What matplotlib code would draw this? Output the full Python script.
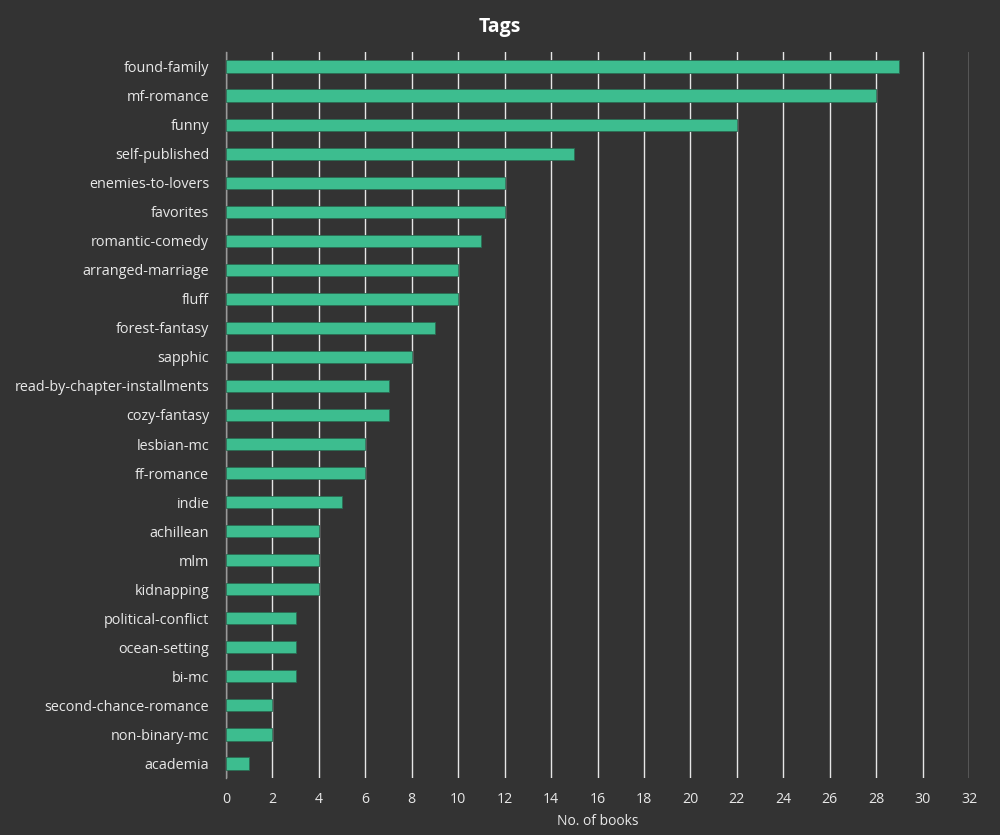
import matplotlib
matplotlib.use("Agg")
import matplotlib.pyplot as plt

tags = ["found-family", "mf-romance", "funny", "self-published", "enemies-to-lovers",
        "favorites", "romantic-comedy", "arranged-marriage", "fluff", "forest-fantasy",
        "sapphic", "read-by-chapter-installments", "cozy-fantasy", "lesbian-mc",
        "ff-romance", "indie", "achillean", "mlm", "kidnapping", "political-conflict",
        "ocean-setting", "bi-mc", "second-chance-romance", "non-binary-mc", "academia"]
counts = [29, 28, 22, 15, 12, 12, 11, 10, 10, 9, 8, 7, 7, 6, 6, 5, 4, 4, 4, 3, 3, 3, 2, 2, 1]
xticks = list(range(0, 33, 2))

BG = "#333333"
BAR = "#3dbd8f"
TXT = "#e8e8e8"

plt.rcParams['font.family'] = ['Open Sans', 'DejaVu Sans']

fig = plt.figure(figsize=(10, 8.35), dpi=100, facecolor=BG)
ax = fig.add_axes([0.226, 1 - 778/835, 0.969 - 0.226, (778 - 52)/835])
ax.set_facecolor(BG)

y = list(range(len(tags)))
ax.barh(y, counts, height=0.42, color=BAR, edgecolor="#2a6b52", linewidth=0.6, zorder=3)
ax.set_ylim(len(tags) - 0.5, -0.5)
ax.set_xlim(0, 32)
ax.set_yticks(y)
ax.set_yticklabels(tags, color=TXT, fontsize=10.4)
ax.set_xticks(xticks)
ax.set_xticklabels([str(t) for t in xticks], color=TXT, fontsize=10.2)
ax.tick_params(axis='both', length=0, pad=12)
ax.tick_params(axis='x', pad=10)
for s in ["top", "right", "bottom"]:
    ax.spines[s].set_visible(False)
ax.spines["left"].set_color("#999999")
ax.spines["left"].set_linewidth(1)
ax.xaxis.grid(True, color="#e6e6e6", linewidth=1, zorder=0)
ax.set_axisbelow(True)
ax.set_xlabel("No. of books", color=TXT, fontsize=10, labelpad=5)
fig.text(0.5, 1 - 27/835, "Tags", color="white", fontsize=14, fontweight="bold",
         ha="center", va="center")

fig.savefig("out.png", dpi=100, facecolor=BG)
